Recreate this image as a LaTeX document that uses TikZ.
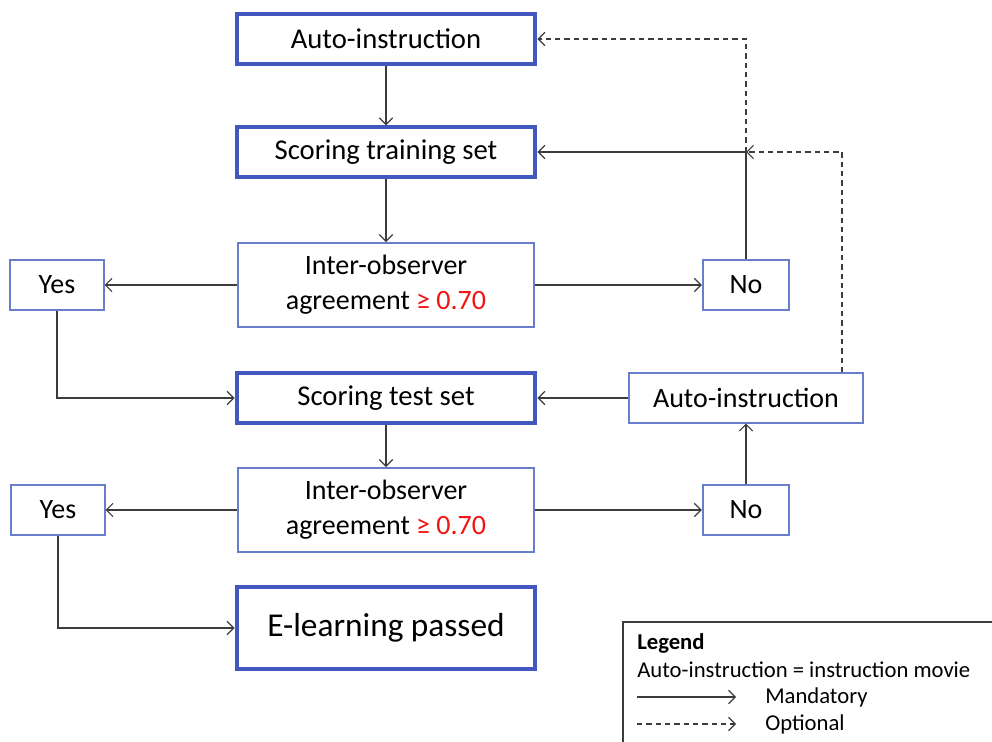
\documentclass[tikz,border=0pt]{standalone}
\usepackage{fontspec}
\setmainfont{Carlito}
\usepackage{tikz}
\usetikzlibrary{shapes,arrows.meta}
\definecolor{box_blue}{RGB}{66, 88, 190}
\definecolor{thin_blue}{RGB}{105, 125, 205}
\definecolor{line_grey}{RGB}{60, 60, 60}
\definecolor{ge_red}{RGB}{240, 20, 20}
\tikzstyle{sb}=[rectangle,draw=box_blue,fill=white,line width=3pt,
  minimum width=224pt,minimum height=37pt,inner sep=2pt,
  font=\fontsize{21.5}{26}\selectfont,align=center]
\tikzstyle{tb}=[rectangle,draw=thin_blue,fill=white,line width=1.3pt,
  minimum height=37pt,inner sep=2pt,
  font=\fontsize{21}{26}\selectfont,align=center]
\tikzstyle{arr}=[-{Straight Barb[length=5pt,width=10pt,line width=0.9pt]},
  draw=line_grey,line width=1.1pt]
\tikzstyle{opt}=[-{Straight Barb[length=5pt,width=10pt,line width=0.9pt]},
  draw=line_grey,line width=1.1pt,dash pattern=on 4pt off 3pt]
\tikzstyle{lg}=[anchor=west,inner sep=0pt,font=\fontsize{17}{20}\selectfont]

\begin{document}
\begin{tikzpicture}[x=0.75pt,y=-0.75pt]
    \useasboundingbox (0,0) rectangle (992,742);
    \node [style=sb] (auto1) at (386,39) {Auto-instruction};
    \node [style=sb] (train) at (386,152) {Scoring training set};
    \node [style=tb,minimum width=222pt,minimum height=63pt] (inter1) at (386,285)
        {Inter-observer\\agreement {\color{ge_red}≥ 0.70}};
    \node [style=tb,minimum width=70pt] (yes1) at (57,285) {Yes};
    \node [style=tb,minimum width=65pt] (no1) at (746,285) {No};
    \node [style=sb] (test) at (386,398) {Scoring test set};
    \node [style=tb,minimum width=175pt] (auto2) at (746,398) {Auto-instruction};
    \node [style=tb,minimum width=222pt,minimum height=63pt] (inter2) at (386,510)
        {Inter-observer\\agreement {\color{ge_red}≥ 0.70}};
    \node [style=tb,minimum width=70pt] (yes2) at (58,510) {Yes};
    \node [style=tb,minimum width=65pt] (no2) at (746,510) {No};
    \node [style=sb,minimum height=62pt,font=\fontsize{25}{30}\selectfont] (elearn) at (386,628) {E-learning passed};
    \coordinate (jn) at (no1 |- train);
    \draw [style=arr] (auto1) to (train);
    \draw [style=arr] (train) to (inter1);
    \draw [style=arr] (inter1) to (yes1);
    \draw [style=arr] (inter1) to (no1);
    \draw [style=arr] (no1) |- (train);
    \draw [style=opt] (jn) |- (auto1);
    \draw [style=opt] ([xshift=-16pt]auto2.north east) |- (jn);
    \draw [style=arr] (yes1) |- (test);
    \draw [style=arr] (auto2) to (test);
    \draw [style=arr] (test) to (inter2);
    \draw [style=arr] (inter2) to (yes2);
    \draw [style=arr] (inter2) to (no2);
    \draw [style=arr] (no2) to (auto2);
    \draw [style=arr] (yes2) |- (elearn);
    % legend
    \begin{scope}
    \clip (0,0) rectangle (992,742);
    \draw [line_grey,line width=1pt] (623,760) -- (623,622) -- (1010,622);
    \end{scope}
    \node [style=lg,font=\fontsize{17}{20}\selectfont\bfseries] (leg) at (637,643) {Legend};
    \node [style=lg] (legai) at (637,670) {Auto-instruction = instruction movie};
    \coordinate (m1) at (637,697);
    \coordinate (m2) at (736,697);
    \coordinate (o1) at (637,724);
    \coordinate (o2) at (736,724);
    \draw [style=arr] (m1) to (m2);
    \draw [style=opt] (o1) to (o2);
    \node [style=lg] (mand) at (765,697) {Mandatory};
    \node [style=lg] (opti) at (765,724) {Optional};
\end{tikzpicture}
\end{document}
